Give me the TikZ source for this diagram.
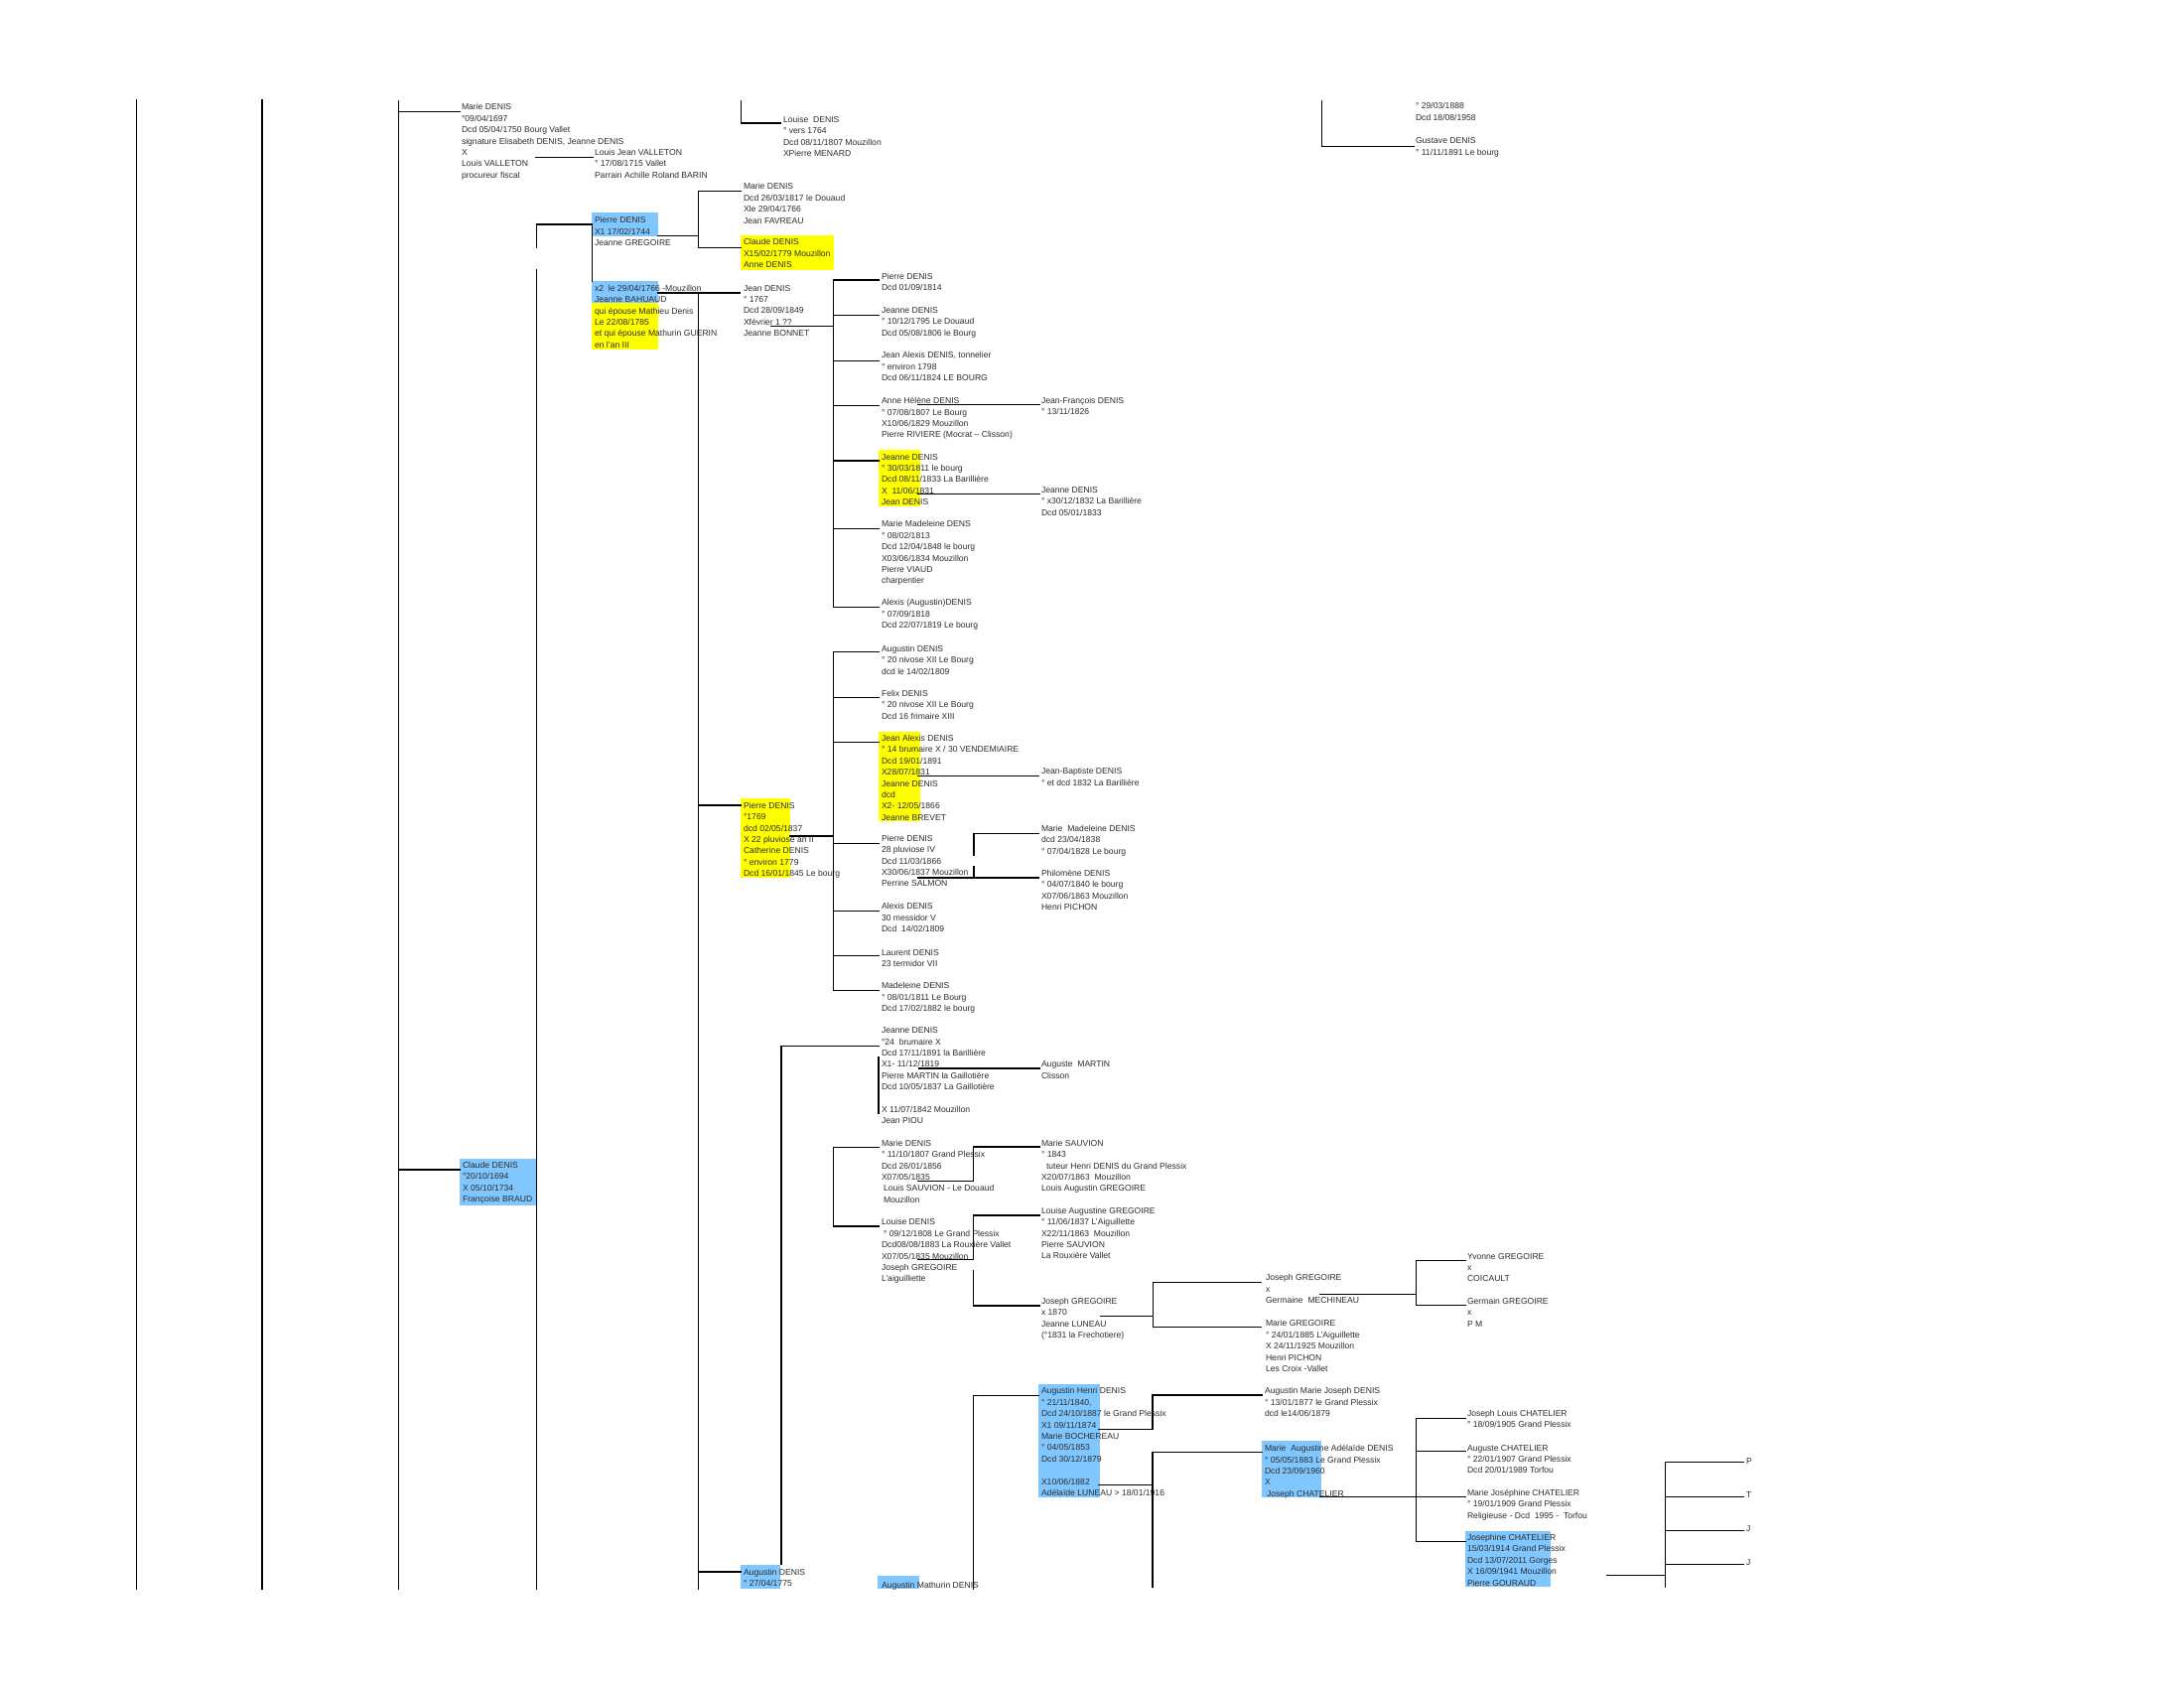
\documentclass[tikz,border=0pt]{standalone}
\usepackage{fontspec}
\setmainfont{Liberation Sans}
\definecolor{hlblue}{RGB}{128,198,255}
\definecolor{hlyellow}{RGB}{255,255,0}
\definecolor{txtgray}{RGB}{45,45,45}
\begin{document}
\begin{tikzpicture}[x=1pt,y=-1pt,
  txt/.style={anchor=north west,inner sep=0pt,outer sep=0pt,align=left,yshift=3pt,text=txtgray,
    font=\fontsize{8.6}{11.4}\selectfont,execute at begin node=\strut},
  ln/.style={line width=1.1pt,line cap=rect},
  lnb/.style={line width=1.5pt,line cap=rect}]
\fill[white] (0,0) rectangle (2200,1700);
\path[use as bounding box] (0,0) rectangle (2200,1700);
% highlights
\fill[hlblue] (596,214) rectangle (662.7,237.5);
\fill[hlblue] (596,283) rectangle (663,305.3);
\fill[hlyellow] (596,305.3) rectangle (663,351.7);
\fill[hlyellow] (746,237.3) rectangle (840,271.7);
\fill[hlyellow] (885,452.7) rectangle (926.7,510);
\fill[hlyellow] (746,804) rectangle (796,884);
\fill[hlyellow] (885,736.7) rectangle (926.7,827.3);
\fill[hlblue] (463,1167) rectangle (540,1214);
\fill[hlblue] (1046,1394) rectangle (1108.3,1507.7);
\fill[hlblue] (1271,1450.7) rectangle (1331,1507.7);
\fill[hlblue] (1475.7,1541.7) rectangle (1562.3,1598.3);
\fill[hlblue] (746,1576) rectangle (786,1600);
\fill[hlblue] (884,1587) rectangle (926,1600);
% texts
\node[txt] (n1) at (465,107.7) {Marie DENIS\\°09/04/1697\\Dcd 05/04/1750 Bourg Vallet\\signature Elisabeth DENIS, Jeanne DENIS\\X\\Louis VALLETON\\procureur fiscal};
\node[txt] (n2) at (599,153.3) {Louis Jean VALLETON\\° 17/08/1715 Vallet\\Parrain Achille Roland BARIN};
\node[txt] (n3) at (789,120) {Louise\ \ DENIS\\° vers 1764\\Dcd 08/11/1807 Mouzillon\\XPierre MENARD};
\node[txt] (n4) at (1426,106.7) {° 29/03/1888\\Dcd 18/08/1958};
\node[txt] (n5) at (1426,141.7) {Gustave DENIS\\° 11/11/1891 Le bourg};
\node[txt] (n6) at (749,187.7) {Marie DENIS\\Dcd 26/03/1817 le Douaud\\Xle 29/04/1766\\Jean FAVREAU};
\node[txt] (n7) at (749,243.7) {Claude DENIS\\X15/02/1779 Mouzillon\\Anne DENIS};
\node[txt] (n8) at (599,221.7) {Pierre DENIS\\X1 17/02/1744\\Jeanne GREGOIRE};
\node[txt] (n9) at (599,290) {x2\ \ le 29/04/1766 -Mouzillon\\Jeanne BAHUAUD\\qui épouse Mathieu Denis\\Le 22/08/1785\\et qui épouse Mathurin GUERIN\\en l'an III};
\node[txt] (n10) at (749,290) {Jean DENIS\\° 1767\\Dcd 28/09/1849\\Xfévrier 1 ??\\Jeanne BONNET};
\node[txt] (n11) at (888,278.3) {Pierre DENIS\\Dcd 01/09/1814};
\node[txt] (n12) at (888,312.3) {Jeanne DENIS\\° 10/12/1795 Le Douaud\\Dcd 05/08/1806 le Bourg};
\node[txt] (n13) at (888,357.7) {Jean Alexis DENIS, tonnelier\\° environ 1798\\Dcd 06/11/1824 LE BOURG};
\node[txt] (n14) at (888,403.3) {Anne Hélène DENIS\\° 07/08/1807 Le Bourg\\X10/06/1829 Mouzillon\\Pierre RIVIERE (Mocrat -- Clisson)};
\node[txt] (n15) at (1049,403.3) {Jean-François DENIS\\° 13/11/1826};
\node[txt] (n16) at (888,460) {Jeanne DENIS\\° 30/03/1811 le bourg\\Dcd 08/11/1833 La Barillière\\X\ \ 11/06/1831\\Jean DENIS};
\node[txt] (n17) at (1049,493.3) {Jeanne DENIS\\° x30/12/1832 La Barillière\\Dcd 05/01/1833};
\node[txt] (n18) at (888,527.7) {Marie Madeleine DENS\\° 08/02/1813\\Dcd 12/04/1848 le bourg\\X03/06/1834 Mouzillon\\Pierre VIAUD\\charpentier};
\node[txt] (n19) at (888,606.7) {Alexis (Augustin)DENIS\\° 07/09/1818\\Dcd 22/07/1819 Le bourg};
\node[txt] (n20) at (749,811) {Pierre DENIS\\°1769\\dcd 02/05/1837\\X 22 pluviose an II\\Catherine DENIS\\° environ 1779\\Dcd 16/01/1845 Le bourg};
\node[txt] (n21) at (888,653.3) {Augustin DENIS\\° 20 nivose XII Le Bourg\\dcd le 14/02/1809};
\node[txt] (n22) at (888,698.3) {Felix DENIS\\° 20 nivose XII Le Bourg\\Dcd 16 frimaire XIII};
\node[txt] (n23) at (888,743.3) {Jean Alexis DENIS\\° 14 brumaire X / 30 VENDEMIAIRE\\Dcd 19/01/1891\\X28/07/1831\\Jeanne DENIS\\dcd\\X2- 12/05/1866\\Jeanne BREVET};
\node[txt] (n24) at (1049,776.7) {Jean-Baptiste DENIS\\° et dcd 1832 La Barillière};
\node[txt] (n25) at (888,844) {Pierre DENIS\\28 pluviose IV\\Dcd 11/03/1866\\X30/06/1837 Mouzillon\\Perrine SALMON};
\node[txt] (n26) at (1049,834) {Marie\ \ Madeleine DENIS\\dcd 23/04/1838\\° 07/04/1828 Le bourg};
\node[txt] (n27) at (1049,879) {Philomène DENIS\\° 04/07/1840 le bourg\\X07/06/1863 Mouzillon\\Henri PICHON};
\node[txt] (n28) at (888,912.7) {Alexis DENIS\\30 messidor V\\Dcd\ \ 14/02/1809};
\node[txt] (n29) at (888,959) {Laurent DENIS\\23 termidor VII};
\node[txt] (n30) at (888,992.7) {Madeleine DENIS\\° 08/01/1811 Le Bourg\\Dcd 17/02/1882 le bourg};
\node[txt] (n31) at (888,1037.7) {Jeanne DENIS\\°24\ \ brumaire X\\Dcd 17/11/1891 la Barillière\\X1- 11/12/1819\\Pierre MARTIN la Gaillotière\\Dcd 10/05/1837 La Gaillotière\\\mbox{}\\X 11/07/1842 Mouzillon\\Jean PIOU};
\node[txt] (n32) at (1049,1071.7) {Auguste\ \ MARTIN\\Clisson};
\node[txt] (n33) at (888,1151) {Marie DENIS\\° 11/10/1807 Grand Plessix\\Dcd 26/01/1856\\X07/05/1835\\\hspace{2pt}Louis SAUVION - Le Douaud\\\hspace{2pt}Mouzillon};
\node[txt] (n34) at (1049,1151) {Marie SAUVION\\° 1843\\\hspace{5pt}tuteur Henri DENIS du Grand Plessix\\X20/07/1863\ \ Mouzillon\\Louis Augustin GREGOIRE};
\node[txt] (n35) at (888,1230.7) {Louise DENIS\\\hspace{2pt}° 09/12/1808 Le Grand Plessix\\Dcd08/08/1883 La Rouxière Vallet\\X07/05/1835 Mouzillon\\Joseph GREGOIRE\\L'aiguilliette};
\node[txt] (n36) at (1049,1219) {Louise Augustine GREGOIRE\\° 11/06/1837 L'Aiguillette\\X22/11/1863\ \ Mouzillon\\Pierre SAUVION\\La Rouxière Vallet};
\node[txt] (n37) at (1049,1310) {Joseph GREGOIRE\\x 1870\\Jeanne LUNEAU\\(°1831 la Frechotiere)};
\node[txt] (n38) at (1275,1286.7) {Joseph GREGOIRE\\x\\Germaine\ \ MECHINEAU};
\node[txt] (n39) at (1275,1332.7) {Marie GREGOIRE\\° 24/01/1885 L'Aiguillette\\X 24/11/1925 Mouzillon\\Henri PICHON\\Les Croix -Vallet};
\node[txt] (n40) at (1478,1265) {Yvonne GREGOIRE\\x\\COICAULT};
\node[txt] (n41) at (1478,1310) {Germain GREGOIRE\\x\\P M};
\node[txt] (n42) at (1049,1400.7) {Augustin Henri DENIS\\° 21/11/1840,\\Dcd 24/10/1887 le Grand Plessix\\X1 09/11/1874\\Marie BOCHEREAU\\° 04/05/1853\\Dcd 30/12/1879\\\mbox{}\\X10/06/1882\\Adélaïde LUNEAU > 18/01/1916};
\node[txt] (n43) at (1274,1400.7) {Augustin Marie Joseph DENIS\\° 13/01/1877 le Grand Plessix\\dcd le14/06/1879};
\node[txt] (n44) at (1274,1458.3) {Marie\ \ Augustine Adélaïde DENIS\\° 05/05/1883 Le Grand Plessix\\Dcd 23/09/1960\\X\\\hspace{2pt}Joseph CHATELIER};
\node[txt] (n45) at (1478,1423.3) {Joseph Louis CHATELIER\\° 18/09/1905 Grand Plessix};
\node[txt] (n46) at (1478,1458) {Auguste CHATELIER\\° 22/01/1907 Grand Plessix\\Dcd 20/01/1989 Torfou};
\node[txt] (n47) at (1478,1503) {Marie Joséphine CHATELIER\\° 19/01/1909 Grand Plessix\\Religieuse - Dcd\ \ 1995 -\ \ Torfou};
\node[txt] (n48) at (1478,1548.3) {Josephine CHATELIER\\15/03/1914 Grand Plessix\\Dcd 13/07/2011 Gorges\\X 16/09/1941 Mouzillon\\Pierre GOURAUD};
\node[txt] (p1) at (1759,1469) {P};
\node[txt] (p2) at (1759,1503) {T};
\node[txt] (p3) at (1759,1537) {J};
\node[txt] (p4) at (1759,1571) {J};
\node[txt] (n50) at (466,1173) {Claude DENIS\\°20/10/1694\\X 05/10/1734\\Françoise BRAUD};
\node[txt] (n51) at (749,1583) {Augustin DENIS\\° 27/04/1775};
\node[txt] (n52) at (888,1594) {Augustin Mathurin DENIS};
% long verticals
\draw[lnb] (137.5,101) -- (137.5,1600);
\draw[lnb] (264,101) -- (264,1600);
\draw[lnb] (401.7,102) -- (401.7,1600);
\draw[lnb] (540.7,226) -- (540.7,249);
\draw[lnb] (540.7,271.7) -- (540.7,1600);
\draw[lnb] (703.5,295) -- (703.5,1600);
% top
\draw[lnb] (401.7,112.7) -- (463,112.7);
\draw[ln] (540,158.3) -- (597,158.3);
\draw[ln] (746.7,102) -- (746.7,124) -- (786.7,124);
\draw[lnb] (1331.7,102) -- (1331.7,147.3) -- (1424,147.3);
\draw[ln] (540.7,226) -- (596.7,226) -- (596.7,283);
\draw[ln] (662.7,237.3) -- (703.5,237.3);
\draw[ln] (746,192.7) -- (703.5,192.7) -- (703.5,249.3) -- (746,249.3);
\draw[ln] (663,295) -- (745,295);
\draw[ln] (776.7,328.3) -- (839.3,328.3);
% Jean DENIS children
\draw[lnb] (839.3,281.7) -- (839.3,611.7);
\foreach \yy in {282,317.3,363.3,408.3,464,532.7,611.7} \draw[ln] (839.3,\yy) -- (885,\yy);
\draw[ln] (925,407.3) -- (1047.3,407.3);
\draw[ln] (925,497.7) -- (1047.3,497.7);
% Pierre DENIS 1769
\draw[ln] (703.5,811) -- (746,811);
\draw[ln] (796,842) -- (839.3,842);
\draw[lnb] (839.3,656.7) -- (839.3,997.3);
\foreach \yy in {656.7,702.7,747.3,849.3,917.3,962.7,997.3} \draw[ln] (839.3,\yy) -- (885.7,\yy);
\draw[ln] (925,781.7) -- (1046.7,781.7);
\draw[ln] (925,884) -- (981,884) -- (981,872.3);
\draw[ln] (981,861.7) -- (981,839.3) -- (1046.7,839.3);
\draw[ln] (981,884) -- (1046.7,884);
% Jeanne DENIS 24 brumaire
\draw[ln] (787,1053.3) -- (787,1575);
\draw[ln] (787,1053.3) -- (885,1053.3);
\draw[ln] (885,1065) -- (885,1121.7);
\draw[ln] (926,1076) -- (1047.3,1076);
% Marie / Louise DENIS
\draw[lnb] (839.3,1155.7) -- (839.3,1235);
\draw[ln] (839.3,1155.7) -- (885,1155.7);
\draw[ln] (839.3,1235) -- (885,1235);
\draw[ln] (925,1189.3) -- (980.7,1189.3) -- (980.7,1155) -- (1047.3,1155);
\draw[ln] (925,1268.3) -- (980.7,1268.3) -- (980.7,1224) -- (1047.3,1224);
\draw[ln] (980.7,1280) -- (980.7,1315) -- (1047,1315);
\draw[ln] (1108.3,1325.5) -- (1161.3,1325.5);
\draw[ln] (1270,1291.7) -- (1161.3,1291.7) -- (1161.3,1336.7) -- (1270,1336.7);
\draw[ln] (1330,1303.3) -- (1426.7,1303.3);
\draw[ln] (1476.7,1269.3) -- (1426.7,1269.3) -- (1426.7,1314.3) -- (1476.7,1314.3);
% Augustin Henri DENIS
\draw[ln] (980.7,1405.5) -- (980.7,1600);
\draw[ln] (980.7,1405.5) -- (1046,1405.5);
\draw[ln] (1106.7,1439.3) -- (1161,1439.3) -- (1161,1405) -- (1271.7,1405);
\draw[ln] (1106.7,1495.7) -- (1161,1495.7);
\draw[ln] (1161,1598.3) -- (1161,1462.3) -- (1271,1462.3);
\draw[ln] (1330,1507.3) -- (1476.7,1507.3);
\draw[lnb] (1426.7,1428.3) -- (1426.7,1552.7);
\foreach \yy in {1428.3,1461.7,1552.7} \draw[ln] (1426.7,\yy) -- (1476.7,\yy);
\draw[lnb] (1619,1586.7) -- (1677.3,1586.7);
\draw[ln] (1677.3,1472.7) -- (1677.3,1598.3);
\foreach \yy in {1472.7,1507.3,1541.7,1575.7} \draw[ln] (1677.3,\yy) -- (1756.7,\yy);
% Claude DENIS and bottom
\draw[ln] (401.7,1178) -- (463,1178);
\draw[ln] (703.5,1583) -- (746,1583);
\end{tikzpicture}
\end{document}
